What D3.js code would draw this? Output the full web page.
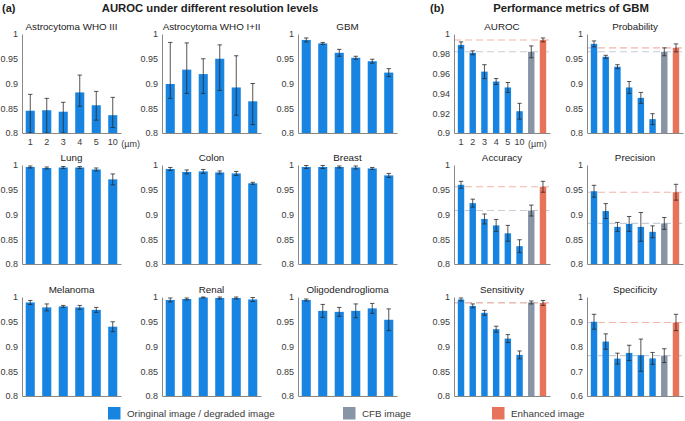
<!DOCTYPE html>
<html><head><meta charset="utf-8">
<script src="https://cdn.jsdelivr.net/npm/d3@7"></script>
<style>
body{margin:0;background:#fff}
svg{display:block}
text{font-family:"Liberation Sans",Arial,Helvetica,sans-serif}
</style>
</head><body>
<svg id="chart" width="685" height="421"></svg>
<script>
// ---------- data ----------
const resolutions = ["1","2","3","4","5","10"];
const metricCats = ["1","2","3","4","5","10","CFB","Enhanced"];

// (a) AUROC per cancer type (values, lower / upper whisker ends or symmetric errors)
const astro3Values = [0.845, 0.846, 0.843, 0.882, 0.856, 0.836];
const astro3Low    = [0.800, 0.800, 0.800, 0.854, 0.826, 0.811];
const astro3High   = [0.878, 0.870, 0.862, 0.917, 0.884, 0.872];
const astro12Values = [0.899, 0.928, 0.919, 0.950, 0.892, 0.864];
const astro12Low    = [0.870, 0.880, 0.880, 0.886, 0.836, 0.817];
const astro12High   = [0.983, 0.982, 0.950, 0.978, 0.956, 0.900];
const gbmValues = [0.988, 0.981, 0.962, 0.952, 0.945, 0.922];
const gbmErr    = [0.004, 0.002, 0.007, 0.003, 0.004, 0.008];
const lungValues = [0.996, 0.994, 0.995, 0.995, 0.991, 0.971];
const lungErr    = [0.002, 0.002, 0.002, 0.002, 0.003, 0.011];
const colonValues = [0.992, 0.986, 0.987, 0.985, 0.983, 0.963];
const colonErr    = [0.003, 0.004, 0.004, 0.003, 0.004, 0.002];
const breastValues = [0.996, 0.996, 0.996, 0.995, 0.993, 0.979];
const breastErr    = [0.003, 0.003, 0.002, 0.003, 0.002, 0.004];
const melanomaValues = [0.989, 0.979, 0.981, 0.979, 0.974, 0.940];
const melanomaErr    = [0.004, 0.007, 0.002, 0.004, 0.005, 0.010];
const renalValues = [0.994, 0.996, 0.999, 0.998, 0.998, 0.995];
const renalErr    = [0.004, 0.002, 0.001, 0.002, 0.002, 0.004];
const oligoValues = [0.994, 0.972, 0.970, 0.972, 0.977, 0.954];
const oligoErr    = [0.002, 0.013, 0.009, 0.014, 0.010, 0.022];

// (b) GBM performance metrics (6 resolutions, CFB, Enhanced)
const aurocValues = [0.989, 0.981, 0.962, 0.952, 0.946, 0.922, 0.982, 0.994];
const aurocErr    = [0.003, 0.002, 0.007, 0.003, 0.005, 0.008, 0.006, 0.002];
const probValues = [0.980, 0.954, 0.934, 0.892, 0.871, 0.828, 0.964, 0.972];
const probErr    = [0.006, 0.003, 0.004, 0.012, 0.011, 0.011, 0.008, 0.008];
const accValues = [0.960, 0.923, 0.891, 0.878, 0.862, 0.836, 0.908, 0.956];
const accErr    = [0.007, 0.008, 0.010, 0.012, 0.016, 0.013, 0.011, 0.011];
const precValues = [0.947, 0.907, 0.875, 0.881, 0.875, 0.865, 0.882, 0.945];
const precErr    = [0.012, 0.015, 0.009, 0.015, 0.029, 0.012, 0.012, 0.016];
const sensValues = [0.995, 0.982, 0.968, 0.935, 0.916, 0.883, 0.989, 0.988];
const sensErr    = [0.003, 0.004, 0.005, 0.006, 0.008, 0.008, 0.003, 0.005];
const specValues = [0.900, 0.820, 0.751, 0.774, 0.765, 0.752, 0.763, 0.897];
const specErr    = [0.030, 0.031, 0.022, 0.031, 0.065, 0.024, 0.028, 0.033];

const ticks08 = [0.8, 0.85, 0.9, 0.95, 1];
const ticksAuroc = [0.9, 0.92, 0.94, 0.96, 0.98, 1];
const ticksSpec = [0.6, 0.7, 0.8, 0.9, 1];

const legendLabels = ["Oringinal image / degraded image", "CFB image", "Enhanced image"];

// ---------- style ----------
const BLUE = "#1784e2", GRAY = "#8795a6", RED = "#e8735b";
const DASH_RED = "#f3b5a8", DASH_GRAY = "#c6cdd6";
const AXIS = "#7a7a7a", TEXT = "#3a3a3a";

const svg = d3.select("#chart");

function sym(vals, err, sign){ return vals.map((v,i)=>v + sign*err[i]); }

function drawPanel(p){
  const g = svg.append("g");
  const cats = p.cats;
  const x = d3.scaleBand().domain(cats).range([p.x0, p.x0 + p.w])
      .paddingInner(0.45).paddingOuter(p.po);
  const y = d3.scaleLinear().domain(p.domain).range([p.y0 + p.h, p.y0]);
  const clipId = "clip" + Math.round(p.x0) + "_" + Math.round(p.y0);
  svg.append("clipPath").attr("id", clipId).append("rect")
     .attr("x", p.x0).attr("y", p.y0 - 2).attr("width", p.w).attr("height", p.h + 2);

  const plot = g.append("g").attr("clip-path", `url(#${clipId})`);

  // reference dashed lines
  if (p.refs){
    p.refs.forEach(r=>{
      plot.append("line").attr("x1", p.x0).attr("x2", p.x0 + p.w)
        .attr("y1", y(r.v)).attr("y2", y(r.v))
        .attr("stroke", r.c).attr("stroke-width", 1.1)
        .attr("stroke-dasharray", "7,4");
    });
  }

  const data = cats.map((c,i)=>({c, v:p.values[i], lo:p.lo[i], hi:p.hi[i], col:p.colors[i]}));
  plot.selectAll("rect.bar").data(data).enter().append("rect")
    .attr("class","bar")
    .attr("x", d=>x(d.c)).attr("width", x.bandwidth())
    .attr("y", d=>y(d.v)).attr("height", d=>y(p.domain[0]) - y(d.v))
    .attr("fill", d=>d.col);

  const eb = plot.selectAll("g.eb").data(data).enter().append("g").attr("class","eb");
  const cx = d=>x(d.c) + x.bandwidth()/2;
  const cap = 2.2;
  eb.append("line").attr("x1",cx).attr("x2",cx).attr("y1",d=>y(d.lo)).attr("y2",d=>y(d.hi))
    .attr("stroke","#2a2a2a").attr("stroke-width",0.8);
  eb.append("line").attr("x1",d=>cx(d)-cap).attr("x2",d=>cx(d)+cap).attr("y1",d=>y(d.lo)).attr("y2",d=>y(d.lo))
    .attr("stroke","#2a2a2a").attr("stroke-width",0.8);
  eb.append("line").attr("x1",d=>cx(d)-cap).attr("x2",d=>cx(d)+cap).attr("y1",d=>y(d.hi)).attr("y2",d=>y(d.hi))
    .attr("stroke","#2a2a2a").attr("stroke-width",0.8);

  // axes
  const fmt = d=>String(+d.toFixed(2));
  const ya = g.append("g").attr("transform", `translate(${p.x0},0)`)
    .call(d3.axisLeft(y).tickValues(p.ticks).tickFormat(fmt).tickSize(0).tickSizeOuter(0).tickPadding(4));
  const xa = g.append("g").attr("transform", `translate(0,${p.y0 + p.h})`)
    .call(d3.axisBottom(x).tickSize(0).tickSizeOuter(0).tickPadding(6)
      .tickFormat(c => p.xlabels && resolutions.includes(c) ? c : ""));
  [ya, xa].forEach(a=>{
    a.select(".domain").attr("stroke", AXIS).attr("stroke-width", 0.9);
    a.selectAll("text").attr("fill", TEXT).style("font-size","9px")
     .style("font-family",'"Liberation Sans",Arial,sans-serif');
  });
  if (p.xlabels){
    g.append("text").attr("x", x("10") + x.bandwidth()/2 + 8.5).attr("y", p.y0 + p.h + 13.5)
      .attr("fill", TEXT).style("font-size","9px").text("(µm)");
  }
  // title
  g.append("text").attr("x", p.x0 + p.w/2).attr("y", p.y0 - 4)
    .attr("text-anchor","middle").attr("fill","#222").style("font-size","9.8px").text(p.title);
}

// ---------- layout ----------
const aCols = [22, 162, 298], aW = 99;
const rowsTop = [34, 165, 297], rowH = 99;
const bCols = [454, 587], bW = 96;
const blue6 = resolutions.map(()=>BLUE);
const colors8 = metricCats.map((c,i)=> i<6 ? BLUE : (c==="CFB" ? GRAY : RED));

const aPanels = [
  {title:"Astrocytoma WHO III", values:astro3Values, lo:astro3Low, hi:astro3High, xlabels:true},
  {title:"Astrocytoma WHO I+II", values:astro12Values, lo:astro12Low, hi:astro12High},
  {title:"GBM", values:gbmValues, lo:sym(gbmValues,gbmErr,-1), hi:sym(gbmValues,gbmErr,1)},
  {title:"Lung", values:lungValues, lo:sym(lungValues,lungErr,-1), hi:sym(lungValues,lungErr,1)},
  {title:"Colon", values:colonValues, lo:sym(colonValues,colonErr,-1), hi:sym(colonValues,colonErr,1)},
  {title:"Breast", values:breastValues, lo:sym(breastValues,breastErr,-1), hi:sym(breastValues,breastErr,1)},
  {title:"Melanoma", values:melanomaValues, lo:sym(melanomaValues,melanomaErr,-1), hi:sym(melanomaValues,melanomaErr,1)},
  {title:"Renal", values:renalValues, lo:sym(renalValues,renalErr,-1), hi:sym(renalValues,renalErr,1)},
  {title:"Oligodendroglioma", values:oligoValues, lo:sym(oligoValues,oligoErr,-1), hi:sym(oligoValues,oligoErr,1)}
];
aPanels.forEach((p,i)=>{
  Object.assign(p, {cats:resolutions, colors:blue6, domain:[0.8,1], ticks:ticks08,
    x0:aCols[i%3], y0:rowsTop[Math.floor(i/3)], w:aW, h:rowH, po:0.225});
  drawPanel(p);
});

const bPanels = [
  {title:"AUROC", values:aurocValues, err:aurocErr, domain:[0.9,1], ticks:ticksAuroc, xlabels:true},
  {title:"Probability", values:probValues, err:probErr, domain:[0.8,1], ticks:ticks08},
  {title:"Accuracy", values:accValues, err:accErr, domain:[0.8,1], ticks:ticks08},
  {title:"Precision", values:precValues, err:precErr, domain:[0.8,1], ticks:ticks08},
  {title:"Sensitivity", values:sensValues, err:sensErr, domain:[0.8,1], ticks:ticks08},
  {title:"Specificity", values:specValues, err:specErr, domain:[0.6,1], ticks:ticksSpec}
];
bPanels.forEach((p,i)=>{
  Object.assign(p, {cats:metricCats, colors:colors8,
    lo:sym(p.values,p.err,-1), hi:sym(p.values,p.err,1),
    refs:[{v:p.values[6], c:DASH_GRAY},{v:p.values[7], c:DASH_RED}],
    x0:bCols[i%2], y0:rowsTop[Math.floor(i/2)], w:bW, h:rowH, po:0.325});
  drawPanel(p);
});

// ---------- headings ----------
svg.append("text").attr("x",2).attr("y",12).style("font-size","11px").style("font-weight","bold")
  .attr("fill","#222").text("(a)");
svg.append("text").attr("x",210).attr("y",12).attr("text-anchor","middle").style("font-size","11.3px")
  .style("font-weight","bold").attr("fill","#222").text("AUROC under different resolution levels");
svg.append("text").attr("x",430).attr("y",12).style("font-size","11px").style("font-weight","bold")
  .attr("fill","#222").text("(b)");
svg.append("text").attr("x",571).attr("y",12).attr("text-anchor","middle").style("font-size","11.3px")
  .style("font-weight","bold").attr("fill","#222").text("Performance metrics of GBM");

// ---------- legend ----------
const legX = [108, 343, 492];
const legColors = [BLUE, GRAY, RED];
const leg = svg.append("g").selectAll("g").data(legendLabels).enter().append("g");
leg.append("rect").attr("x",(d,i)=>legX[i]).attr("y",407).attr("width",12.5).attr("height",12.5)
  .attr("fill",(d,i)=>legColors[i]);
leg.append("text").attr("x",(d,i)=>legX[i]+19).attr("y",417).attr("fill",TEXT)
  .style("font-size","9.8px").text(d=>d);
</script>
</body></html>
